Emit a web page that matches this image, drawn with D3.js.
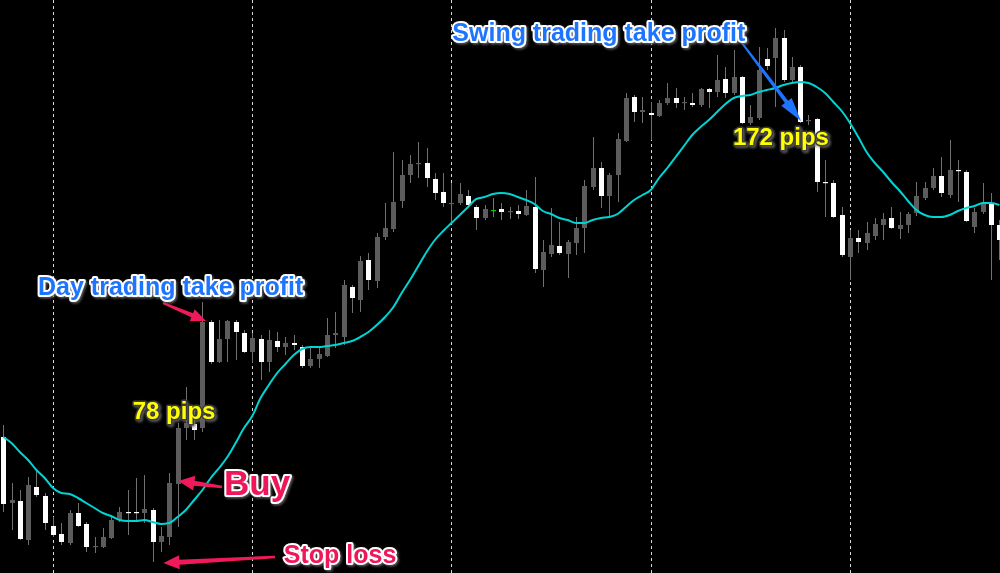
<!DOCTYPE html>
<html><head><meta charset="utf-8">
<script src="https://cdn.jsdelivr.net/npm/d3@7"></script>
<style>html,body{margin:0;padding:0;background:#000;overflow:hidden}</style>
</head><body><svg id="chart" width="1000" height="573"></svg>
<script>
// ---- Data (prices) ----
const open=[1.20815,1.20485,1.20495,1.20300,1.20565,1.20520,1.20370,1.20330,1.20285,1.20435,
1.20380,1.20265,1.20265,1.20310,1.20400,1.20440,1.20440,1.20435,1.20450,1.20290,
1.20315,1.20580,1.20860,1.20880,1.20860,1.21390,1.21190,1.21305,1.21390,1.21335,
1.21240,1.21305,1.21190,1.21295,1.21265,1.21285,1.21265,1.21170,1.21205,1.21220,
1.21325,1.21315,1.21565,1.21500,1.21700,1.21595,1.21815,1.21855,1.21995,1.22125,
1.22180,1.22185,1.22105,1.22040,1.21980,1.21985,1.22020,1.21965,1.21910,1.21950,
1.21955,1.21940,1.21945,1.21925,1.21965,1.21650,1.21730,1.21770,1.21730,1.21785,
1.21860,1.22065,1.22160,1.22020,1.22125,1.22295,1.22515,1.22440,1.22435,1.22420,
1.22485,1.22510,1.22485,1.22485,1.22475,1.22555,1.22540,1.22605,1.22535,1.22615,
1.22385,1.22410,1.22705,1.22710,1.22810,1.22600,1.22665,1.22395,1.22405,1.22090,
1.22085,1.21925,1.21715,1.21810,1.21785,1.21820,1.21875,1.21910,1.21855,1.21875,
1.21935,1.22010,1.22060,1.22120,1.22025,1.22150,1.22140,1.21865,1.21940,1.21985,
1.21875];
const high=[1.20875,1.20585,1.20550,1.20615,1.20655,1.20535,1.20415,1.20385,1.20450,1.20485,
1.20390,1.20315,1.20360,1.20415,1.20465,1.20550,1.20610,1.20625,1.20460,1.20365,
1.20635,1.20885,1.21065,1.20975,1.21490,1.21400,1.21400,1.21400,1.21400,1.21350,
1.21335,1.21325,1.21350,1.21340,1.21315,1.21325,1.21275,1.21265,1.21265,1.21410,
1.21440,1.21600,1.21575,1.21720,1.21735,1.21835,1.21985,1.22240,1.22200,1.22225,
1.22290,1.22260,1.22135,1.22135,1.22085,1.22085,1.22050,1.21975,1.21975,1.22010,
1.21985,1.21965,1.21975,1.22050,1.22115,1.21800,1.21960,1.21890,1.21800,1.21915,
1.22100,1.22315,1.22190,1.22135,1.22335,1.22535,1.22525,1.22515,1.22490,1.22500,
1.22585,1.22560,1.22515,1.22535,1.22560,1.22560,1.22725,1.22665,1.22750,1.22620,
1.22475,1.22765,1.22760,1.22860,1.22850,1.22715,1.22675,1.22425,1.22410,1.22200,
1.22100,1.21965,1.21850,1.21850,1.21890,1.21910,1.21935,1.21965,1.21940,1.21940,
1.22090,1.22090,1.22160,1.22215,1.22300,1.22200,1.22150,1.21960,1.22085,1.22035,
1.21900];
const low=[1.20440,1.20350,1.20300,1.20275,1.20515,1.20350,1.20315,1.20275,1.20275,1.20365,
1.20240,1.20235,1.20260,1.20305,1.20390,1.20325,1.20400,1.20385,1.20190,1.20240,
1.20275,1.20365,1.20800,1.20800,1.20840,1.21180,1.21185,1.21190,1.21200,1.21235,
1.21185,1.21100,1.21140,1.21240,1.21225,1.21250,1.21160,1.21160,1.21160,1.21215,
1.21260,1.21275,1.21435,1.21440,1.21550,1.21560,1.21800,1.21840,1.21960,1.22085,
1.22110,1.22065,1.22000,1.21965,1.21885,1.21975,1.21965,1.21850,1.21900,1.21915,
1.21900,1.21905,1.21905,1.21920,1.21635,1.21565,1.21715,1.21725,1.21610,1.21725,
1.21735,1.22050,1.21960,1.21915,1.21990,1.22290,1.22390,1.22385,1.22300,1.22415,
1.22475,1.22460,1.22450,1.22465,1.22465,1.22460,1.22515,1.22510,1.22525,1.22380,
1.22375,1.22400,1.22650,1.22465,1.22590,1.22590,1.22385,1.22375,1.22040,1.21915,
1.21910,1.21715,1.21600,1.21735,1.21750,1.21800,1.21800,1.21855,1.21805,1.21835,
1.21920,1.22000,1.22050,1.22015,1.22010,1.21990,1.21890,1.21835,1.21930,1.21600,
1.21700];
const close=[1.20480,1.20500,1.20305,1.20575,1.20525,1.20385,1.20325,1.20290,1.20435,1.20370,
1.20265,1.20270,1.20315,1.20400,1.20440,1.20435,1.20435,1.20455,1.20290,1.20320,
1.20585,1.20860,1.20885,1.20850,1.21390,1.21190,1.21305,1.21395,1.21340,1.21240,
1.21310,1.21190,1.21300,1.21265,1.21285,1.21275,1.21170,1.21205,1.21230,1.21325,
1.21335,1.21575,1.21510,1.21695,1.21600,1.21815,1.21860,1.21990,1.22125,1.22180,
1.22185,1.22110,1.22035,1.21985,1.21985,1.22030,1.21975,1.21910,1.21955,1.21950,
1.21940,1.21945,1.21930,1.21970,1.21655,1.21740,1.21775,1.21735,1.21790,1.21860,
1.22070,1.22160,1.22020,1.22125,1.22305,1.22510,1.22440,1.22450,1.22425,1.22485,
1.22510,1.22485,1.22490,1.22475,1.22555,1.22540,1.22600,1.22535,1.22615,1.22385,
1.22415,1.22650,1.22670,1.22810,1.22600,1.22665,1.22390,1.22400,1.22090,1.22085,
1.21915,1.21725,1.21810,1.21790,1.21835,1.21880,1.21905,1.21860,1.21875,1.21930,
1.22020,1.22060,1.22120,1.22035,1.22150,1.22145,1.21895,1.21940,1.21985,1.21875,
1.21800];
// Moving average line (one value per candle)
const ma=[1.20815,1.20785,1.20740,1.20700,1.20650,1.20610,1.20560,1.20535,1.20530,1.20510,
1.20485,1.20460,1.20435,1.20420,1.20400,1.20395,1.20395,1.20400,1.20390,1.20380,
1.20385,1.20415,1.20450,1.20500,1.20550,1.20610,1.20660,1.20715,1.20785,1.20860,
1.20920,1.21010,1.21075,1.21135,1.21180,1.21225,1.21255,1.21265,1.21265,1.21270,
1.21275,1.21285,1.21295,1.21315,1.21340,1.21375,1.21415,1.21465,1.21535,1.21600,
1.21670,1.21740,1.21800,1.21845,1.21885,1.21925,1.21965,1.22005,1.22015,1.22030,
1.22035,1.22030,1.22015,1.22000,1.21980,1.21945,1.21930,1.21910,1.21900,1.21885,
1.21885,1.21900,1.21910,1.21915,1.21930,1.21965,1.22000,1.22025,1.22050,1.22110,
1.22160,1.22215,1.22270,1.22325,1.22365,1.22400,1.22440,1.22480,1.22510,1.22520,
1.22525,1.22540,1.22550,1.22560,1.22575,1.22585,1.22590,1.22585,1.22565,1.22535,
1.22490,1.22445,1.22385,1.22315,1.22240,1.22185,1.22140,1.22090,1.22045,1.21995,
1.21950,1.21925,1.21915,1.21915,1.21925,1.21945,1.21960,1.21970,1.21985,1.21985,
1.21975];
// candle indices where a new day starts (period separators)
const daySeparators=[6,30,54,78,102];

// ---- Scales ----
const W=1000,H=573;
const n=open.length;
const x=d3.scaleLinear().domain([0,120]).range([3.2,999.4]);
const y=d3.scaleLinear().domain([1.20135,1.23000]).range([H,0]);

const svg=d3.select("#chart");
const defs=svg.append("defs");
const f=defs.append("filter").attr("id","shadow").attr("x","-10%").attr("y","-30%").attr("width","120%").attr("height","160%");
f.append("feDropShadow").attr("dx",1.5).attr("dy",1.5).attr("stdDeviation",1)
  .attr("flood-color","#666").attr("flood-opacity",0.9);
svg.append("rect").attr("width",W).attr("height",H).attr("fill","#000");

// period separators
svg.append("g").selectAll("line").data(daySeparators).join("line")
  .attr("x1",d=>Math.round(x(d))+0.5).attr("x2",d=>Math.round(x(d))+0.5)
  .attr("y1",0).attr("y2",H)
  .attr("stroke","#d8d8d8").attr("stroke-width",1).attr("stroke-dasharray","3,3");

// candles
const idx=d3.range(n);
const cg=svg.append("g");
const isDoji=i=>open[i]===close[i];
cg.selectAll("line.wick").data(idx).join("line").attr("class","wick")
  .attr("x1",i=>Math.round(x(i))+0.5).attr("x2",i=>Math.round(x(i))+0.5)
  .attr("y1",i=>y(high[i])).attr("y2",i=>y(low[i]))
  .attr("stroke",i=>isDoji(i)?"#00c800":"#707070").attr("stroke-width",1);
cg.selectAll("rect.body").data(idx).join("rect").attr("class","body")
  .attr("x",i=>Math.round(x(i))-2)
  .attr("width",5)
  .attr("y",i=>y(Math.max(open[i],close[i])))
  .attr("height",i=>Math.max(1.2,Math.abs(y(open[i])-y(close[i]))))
  .attr("fill",i=>isDoji(i)?"#00c800":(close[i]>open[i]?"#5c5c5c":"#ffffff"));

// moving average
svg.append("path").datum(idx)
  .attr("d",d3.line().x(i=>x(i)).y(i=>y(ma[i])).curve(d3.curveMonotoneX))
  .attr("fill","none").attr("stroke","#00d4d4").attr("stroke-width",2);

// ---- Annotations ----
function arrow(i1,p1,i2,p2,opt){
  const x1=x(i1),y1=y(p1),x2=x(i2),y2=y(p2);
  const dx=x2-x1,dy=y2-y1,L=Math.hypot(dx,dy),ux=dx/L,uy=dy/L,nx=-uy,ny=ux;
  const bx=x2-ux*opt.head,by=y2-uy*opt.head;
  const pts=[[x1+nx*opt.tail/2,y1+ny*opt.tail/2],[bx+nx*opt.shaft/2,by+ny*opt.shaft/2],
    [bx+nx*opt.hw/2,by+ny*opt.hw/2],[x2,y2],[bx-nx*opt.hw/2,by-ny*opt.hw/2],
    [bx-nx*opt.shaft/2,by-ny*opt.shaft/2],[x1-nx*opt.tail/2,y1-ny*opt.tail/2]];
  svg.append("polygon").attr("points",pts.map(p=>p.join(",")).join(" "))
    .attr("fill",opt.color);
}
function label(txt,i,p,size,fill,stroke,sw){
  svg.append("text").attr("x",x(i)).attr("y",y(p)).text(txt)
    .attr("font-family","'Liberation Sans', Arial, sans-serif").attr("font-weight","bold")
    .attr("font-size",size).attr("fill",fill).attr("stroke",stroke).attr("stroke-width",sw)
    .attr("stroke-linejoin","round").attr("paint-order","stroke")
    .attr("filter","url(#shadow)");
}
const pink="#f01a5a", blue="#1f74ff";
arrow(19.25,1.21485,24.43,1.21395,{tail:2,shaft:4.5,head:15,hw:13,color:pink});
arrow(26.36,1.20565,21.1,1.20595,{tail:2.5,shaft:5,head:16,hw:15,color:pink});
arrow(32.74,1.20215,19.3,1.20185,{tail:2.5,shaft:5,head:16,hw:14,color:pink});
arrow(88.99,1.22785,96.1,1.22395,{tail:2,shaft:4,head:24,hw:13,color:blue});

label("Swing trading take profit",54.1,1.22795,25,blue,"#ffffff",4);
label("Day trading take profit",4.2,1.21525,25,blue,"#ffffff",4);
label("172 pips",87.9,1.22275,24,"#ffff00","#3a3a3a",3);
label("78 pips",15.6,1.20905,24,"#ffff00","#3a3a3a",3);
label("Buy",26.6,1.20525,35,"#f0145a","#ffffff",4);
label("Stop loss",33.8,1.20185,25,"#f0145a","#ffffff",4);
</script></body></html>
